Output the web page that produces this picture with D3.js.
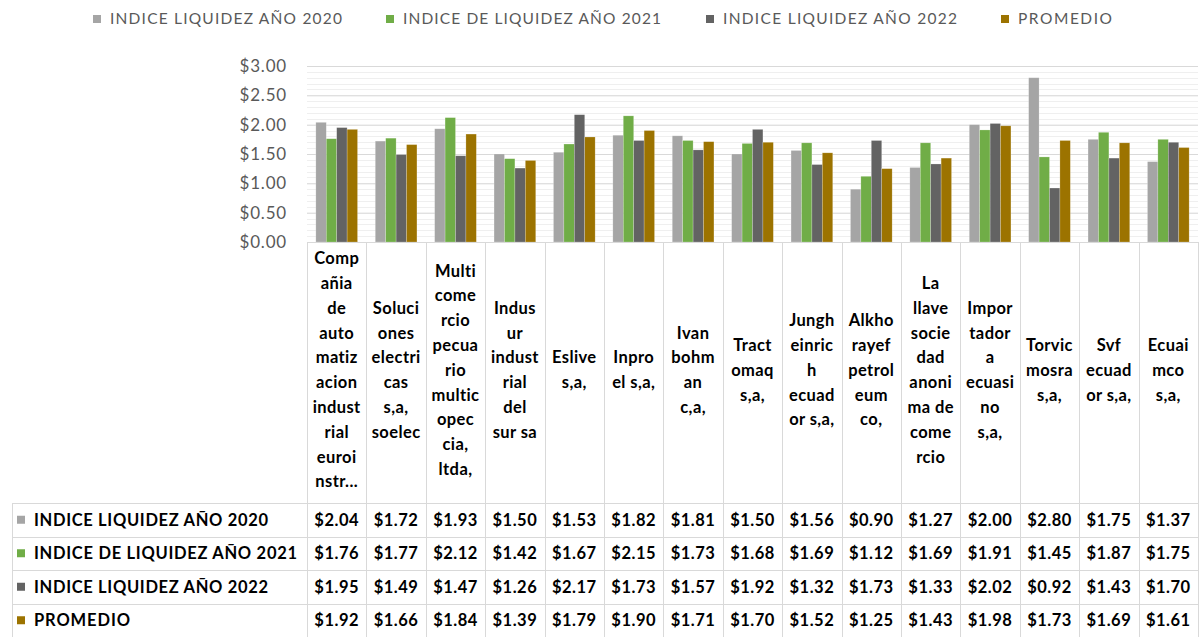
<!DOCTYPE html>
<html>
<head>
<meta charset="utf-8">
<script src="https://cdn.jsdelivr.net/npm/d3@7"></script>
<style>
  body { margin: 0; background: #fff; }
  svg { display: block; font-family: Lato, "Open Sans", sans-serif; }
</style>
</head>
<body>
<svg></svg>
<script>

let categories = [
    ["Comp","añia","de","auto","matiz","acion","indust","rial","euroi","nstr..."],
    ["Soluci","ones","electri","cas","s,a,","soelec"],
    ["Multi","come","rcio","pecua","rio","multic","opec","cia,","ltda,"],
    ["Indus","ur","indust","rial","del","sur sa"],
    ["Eslive","s,a,"],
    ["Inpro","el s,a,"],
    ["Ivan","bohm","an","c,a,"],
    ["Tract","omaq","s,a,"],
    ["Jungh","einric","h","ecuad","or s,a,"],
    ["Alkho","rayef","petrol","eum","co,"],
    ["La","llave","socie","dad","anoni","ma de","come","rcio"],
    ["Impor","tador","a","ecuasi","no","s,a,"],
    ["Torvic","mosra","s,a,"],
    ["Svf","ecuad","or s,a,"],
    ["Ecuai","mco","s,a,"]
]

let seriesNames = ["INDICE LIQUIDEZ AÑO 2020", "INDICE DE LIQUIDEZ AÑO 2021", "INDICE LIQUIDEZ AÑO 2022", "PROMEDIO"]

let liquidez2020 = [2.04, 1.72, 1.93, 1.50, 1.53, 1.82, 1.81, 1.50, 1.56, 0.90, 1.27, 2.00, 2.80, 1.75, 1.37]
let liquidez2021 = [1.76, 1.77, 2.12, 1.42, 1.67, 2.15, 1.73, 1.68, 1.69, 1.12, 1.69, 1.91, 1.45, 1.87, 1.75]
let liquidez2022 = [1.95, 1.49, 1.47, 1.26, 2.17, 1.73, 1.57, 1.92, 1.32, 1.73, 1.33, 2.02, 0.92, 1.43, 1.70]
let promedio     = [1.92, 1.66, 1.84, 1.39, 1.79, 1.90, 1.71, 1.70, 1.52, 1.25, 1.43, 1.98, 1.73, 1.69, 1.61]

let yTicks = [0, 0.5, 1, 1.5, 2, 2.5, 3]

let series = [liquidez2020, liquidez2021, liquidez2022, promedio]
let colors = ["#a5a5a5", "#70ad47", "#636363", "#9c7300"]

let width = 1202
let height = 637

// plot area
let plotLeft = 307
let plotRight = 1198
let plotTop = 66
let plotBottom = 242

// table
let tableLeft = 12
let headerBottom = 503
let rowHeight = 33.5

let gridColor = "#d9d9d9"

let svg = d3.select('svg')
svg.attr("width", width).attr("height", height)

let xScale = d3.scaleBand()
               .domain(d3.range(categories.length))
               .range([plotLeft, plotRight])

let subScale = d3.scaleBand()
                 .domain(d3.range(series.length))
                 .range([0, xScale.bandwidth()])
                 .paddingOuter(0.85)

let yScale = d3.scaleLinear()
               .domain([0, 3])
               .range([plotBottom, plotTop])

const drawGrid = () => {
    // minor gridlines
    svg.append('g')
        .selectAll('line')
        .data(d3.range(0, 3.0001, 0.1))
        .enter()
        .append('line')
        .attr('x1', plotLeft)
        .attr('x2', plotRight)
        .attr('y1', (d) => Math.round(yScale(d)) + 0.5)
        .attr('y2', (d) => Math.round(yScale(d)) + 0.5)
        .attr('stroke', "#efefef")

    let yAxis = d3.axisLeft(yScale)
                  .tickValues(yTicks)
                  .tickSize(-(plotRight - plotLeft))
                  .tickPadding(20)
                  .tickFormat(d3.format("$.2f"))

    let g = svg.append('g')
        .attr('transform', 'translate(' + plotLeft + ',0)')
        .call(yAxis)
    g.select('.domain').remove()
    g.selectAll('.tick line').attr('stroke', gridColor)
    g.selectAll('.tick text')
        .attr('fill', '#595959')
        .style('font-size', '17px')
        .style('letter-spacing', '0.8px')
        .style('font-family', 'Lato, sans-serif')
}

const drawBars = () => {
    let groups = svg.append('g')
        .selectAll('g')
        .data(series)
        .enter()
        .append('g')
        .attr('fill', (d, i) => colors[i])

    groups.selectAll('rect')
        .data((d, i) => d.map((v, j) => ({ v: v, j: j, s: i })))
        .enter()
        .append('rect')
        .attr('x', (d) => xScale(d.j) + subScale(d.s))
        .attr('width', subScale.bandwidth())
        .attr('y', (d) => yScale(d.v))
        .attr('height', (d) => yScale(0) - yScale(d.v))
        .attr('stroke', '#ffffff')
        .attr('stroke-opacity', 0.35)
        .attr('stroke-width', 0.6)
}

const drawTable = () => {
    let t = svg.append('g')

    // x axis line
    t.append('line')
        .attr('x1', plotLeft).attr('x2', plotRight)
        .attr('y1', plotBottom + 0.5).attr('y2', plotBottom + 0.5)
        .attr('stroke', gridColor)

    // column borders
    let borders = d3.range(categories.length + 1).map((i) => i < categories.length ? xScale(i) : plotRight)
    t.selectAll('.col')
        .data(borders)
        .enter()
        .append('line')
        .attr('x1', (d) => Math.round(d) + 0.5)
        .attr('x2', (d) => Math.round(d) + 0.5)
        .attr('y1', plotBottom)
        .attr('y2', headerBottom + rowHeight * series.length)
        .attr('stroke', gridColor)

    // row lines
    t.selectAll('.row')
        .data(d3.range(series.length + 1))
        .enter()
        .append('line')
        .attr('x1', tableLeft)
        .attr('x2', plotRight)
        .attr('y1', (d) => Math.round(headerBottom + d * rowHeight) + 0.5)
        .attr('y2', (d) => Math.round(headerBottom + d * rowHeight) + 0.5)
        .attr('stroke', gridColor)

    t.append('line')
        .attr('x1', tableLeft + 0.5).attr('x2', tableLeft + 0.5)
        .attr('y1', headerBottom).attr('y2', headerBottom + rowHeight * series.length)
        .attr('stroke', gridColor)

    // category labels
    let lineStep = 24.8
    let center = 370
    let cat = t.selectAll('.cat')
        .data(categories)
        .enter()
        .append('text')
        .attr('text-anchor', 'middle')
        .attr('font-weight', 'bold')
        .style('font-size', '16.5px')
        .style('letter-spacing', '0.4px')
        .attr('fill', '#000')
    cat.selectAll('tspan')
        .data((d, j) => d.map((s, k) => ({ s: s, k: k, n: d.length, j: j })))
        .enter()
        .append('tspan')
        .attr('x', (d) => xScale(d.j) + xScale.bandwidth() / 2)
        .attr('y', (d) => center + (d.k - (d.n - 1) / 2) * lineStep)
        .attr('dy', '0.35em')
        .text((d) => d.s)

    // row labels
    let labelWidths = [234, 263, 234, 96]
    let rows = t.selectAll('.rowlab')
        .data(seriesNames)
        .enter()
        .append('g')
        .attr('transform', (d, i) => 'translate(0,' + (headerBottom + (i + 0.5) * rowHeight) + ')')
    rows.append('rect')
        .attr('x', 17).attr('y', -4).attr('width', 8).attr('height', 8)
        .attr('fill', (d, i) => colors[i])
    rows.append('text')
        .attr('x', 34)
        .attr('dy', '0.35em')
        .attr('font-weight', 'bold')
        .style('font-size', '16.5px')
        .attr('textLength', (d, i) => labelWidths[i])
        .attr('lengthAdjust', 'spacing')
        .text((d) => d)

    // values
    let fmt = d3.format("$.2f")
    series.forEach((s, i) => {
        t.append('g')
            .selectAll('text')
            .data(s)
            .enter()
            .append('text')
            .attr('x', (d, j) => xScale(j) + xScale.bandwidth() / 2)
            .attr('y', headerBottom + (i + 0.5) * rowHeight)
            .attr('dy', '0.35em')
            .attr('text-anchor', 'middle')
            .attr('font-weight', 'bold')
            .style('font-size', '16.5px')
            .style('letter-spacing', '0.5px')
            .text((d) => fmt(d))
    })
}

const drawLegend = () => {
    let xs = [93, 386, 706, 1001]
    let textWidths = [232, 258, 234, 94]
    let legend = svg.append('g')
        .selectAll('g')
        .data(seriesNames)
        .enter()
        .append('g')
        .attr('transform', (d, i) => 'translate(' + xs[i] + ',19)')
    legend.append('rect')
        .attr('x', 0).attr('y', -4).attr('width', 8).attr('height', 8)
        .attr('fill', (d, i) => colors[i])
    legend.append('text')
        .attr('x', 17)
        .attr('dy', '0.35em')
        .attr('fill', '#595959')
        .style('font-size', '15.5px')
        .attr('textLength', (d, i) => textWidths[i])
        .attr('lengthAdjust', 'spacing')
        .text((d) => d)
}

drawGrid()
drawBars()
drawTable()
drawLegend()

</script>
</body>
</html>
